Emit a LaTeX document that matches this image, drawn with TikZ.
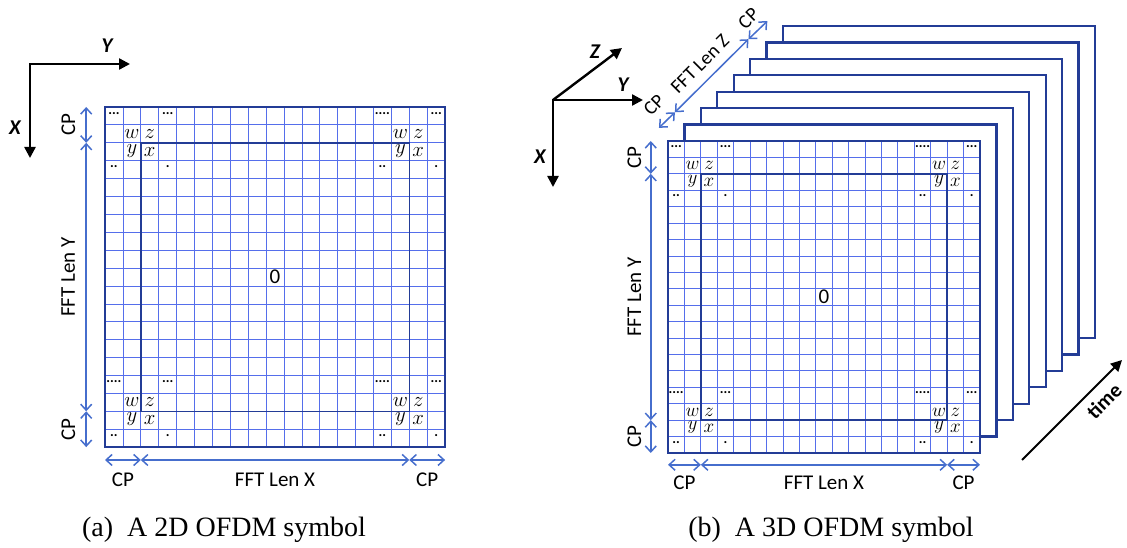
\documentclass[tikz,border=0pt]{standalone}
\usepackage{fontspec}
\setmainfont{Liberation Serif}
\newfontfamily\carl{Carlito}
\usetikzlibrary{arrows.meta}

\definecolor{gridblue}{RGB}{85,110,235}
\definecolor{frameblue}{RGB}{35,60,150}
\definecolor{dimblue}{RGB}{70,110,205}

\tikzset{
  gridline/.style={gridblue, line width=0.8pt},
  framebox/.style={frameblue, line width=2.2pt},
  innerbox/.style={frameblue, line width=1.6pt},
  dimarrow/.style={dimblue, line width=1.5pt,
    {Straight Barb[length=6pt,width=11pt]}-{Straight Barb[length=6pt,width=11pt]}},
  axisarrow/.style={black, line width=2.4pt},
  dimlabel/.style={font=\carl\fontsize{21}{21}\selectfont, inner sep=0pt},
  symlabel/.style={font=\fontsize{20}{20}\selectfont, inner sep=0pt},
  dotlabel/.style={font=\carl\bfseries\fontsize{14}{14}\selectfont, inner sep=0pt},
  axislabel/.style={font=\carl\bfseries\itshape\fontsize{21}{21}\selectfont, inner sep=0pt},
  caption/.style={font=\fontsize{28}{28}\selectfont, inner sep=0pt},
}

% row of dots in a corner cell
\newcommand{\dotrow}[1]{\ifcase#1\or.\or..\or...\or....\fi}

% one 19x19 symbol with its CP / FFT marks, in cell units
\newcommand{\ofdmgrid}[1]{%
  \fill[white] (0,0) rectangle (19,19);
  \foreach \i in {1,...,18} {
    \draw[gridline] (\i,0) -- (\i,19);
    \draw[gridline] (0,\i) -- (19,\i);
  }
  \draw[innerbox] (2,2) rectangle (17,17);
  \draw[framebox] (0,0) rectangle (19,19);
  \foreach \r/\c in {1/1,1/16,16/1,16/16} {
    \node[symlabel] (#1-w\r\c) at (\c+0.5,\r+0.5) {$w$};
    \node[symlabel] (#1-z\r\c) at (\c+1.5,\r+0.5) {$z$};
    \node[symlabel] (#1-y\r\c) at (\c+0.5,\r+1.45) {$y$};
    \node[symlabel] (#1-x\r\c) at (\c+1.5,\r+1.5) {$x$};
  }
  \foreach \r/\c/\n in {0/0/3,0/3/3,0/15/4,0/18/3,3/0/2,3/3/1,3/15/2,3/18/1,
                        15/0/4,15/3/3,15/15/4,15/18/3,18/0/2,18/3/1,18/15/2,18/18/1}
    \node[dotlabel] (#1-d\r-\c) at (\c+0.5,\r+0.35) {\dotrow{\n}};
  \node[dimlabel] (#1-zero) at (9.5,9.5) {0};
  % Y direction
  \coordinate (#1-v0) at (-1.05,0);
  \coordinate (#1-v1) at (-1.05,2);
  \coordinate (#1-v2) at (-1.05,17);
  \coordinate (#1-v3) at (-1.05,19);
  \draw[dimarrow] (#1-v0) -- (#1-v1);
  \draw[dimarrow] (#1-v1) -- (#1-v2);
  \draw[dimarrow] (#1-v2) -- (#1-v3);
  \node[dimlabel, rotate=90] (#1-cpv1) at (-2.05,1) {CP};
  \node[dimlabel, rotate=90] (#1-fftv) at (-2.05,9.5) {FFT Len Y};
  \node[dimlabel, rotate=90] (#1-cpv2) at (-2.05,18) {CP};
  % X direction
  \coordinate (#1-h0) at (0,19.72);
  \coordinate (#1-h1) at (2,19.72);
  \coordinate (#1-h2) at (17,19.72);
  \coordinate (#1-h3) at (19,19.72);
  \draw[dimarrow] (#1-h0) -- (#1-h1);
  \draw[dimarrow] (#1-h1) -- (#1-h2);
  \draw[dimarrow] (#1-h2) -- (#1-h3);
  \node[dimlabel] (#1-cph1) at (1,20.82) {CP};
  \node[dimlabel] (#1-ffth) at (9.5,20.82) {FFT Len X};
  \node[dimlabel] (#1-cph2) at (18,20.82) {CP};
}

\begin{document}
\begin{tikzpicture}[x=1pt,y=-1pt]
  \useasboundingbox (0,0) rectangle (1127,548);

  % (a) 2D symbol
  \coordinate (oA) at (30,64);
  \coordinate (yA) at (130,64);
  \coordinate (xA) at (30,158);
  \draw[axisarrow, {Triangle[length=11pt,width=11pt]}-{Triangle[length=11pt,width=11pt]}]
    (yA) -- (oA) -- (xA);
  \node[axislabel] (labYA) at (107,46) {Y};
  \node[axislabel] (labXA) at (15,128) {X};

  \begin{scope}[shift={(105,107)}, x=17.9pt, y=-17.9pt]
    \ofdmgrid{a}
  \end{scope}

  % (b) 3D symbol
  \coordinate (oB) at (553,100);
  \coordinate (yB) at (643,100);
  \coordinate (zB) at (622,48);
  \coordinate (xB) at (553,187);
  \draw[axisarrow, {Triangle[length=11pt,width=11pt]}-{Triangle[length=11pt,width=11pt]}]
    (yB) -- (oB) -- (xB);
  \draw[axisarrow, -{Triangle[length=11pt,width=11pt]}] (oB) -- (zB);
  \node[axislabel] (labZB) at (595,52) {Z};
  \node[axislabel] (labYB) at (623,85) {Y};
  \node[axislabel] (labXB) at (540,157) {X};

  \begin{scope}[shift={(668,141)}, x=16.42pt, y=-16.42pt,
                symlabel/.append style={scale=0.92}]
    \foreach \k in {7,6,...,1}
      \draw[framebox, fill=white] (\k,-\k) rectangle (19+\k,19-\k);
    \ofdmgrid{b}
    % Z direction
    \coordinate (z0) at (-0.55,-0.8);
    \coordinate (z1) at (0.42,-1.75);
    \coordinate (z2) at (4.9,-6.2);
    \coordinate (z3) at (6.05,-7.3);
    \draw[dimarrow] (z0) -- (z1);
    \draw[dimarrow] (z1) -- (z2);
    \draw[dimarrow] (z2) -- (z3);
    \node[dimlabel, scale=0.93, rotate=45] (cpz1) at (-0.85,-2.2) {CP};
    \node[dimlabel, scale=0.93, rotate=45] (fftz) at (1.95,-4.68) {FFT Len Z};
    \node[dimlabel, scale=0.93, rotate=45] (cpz2) at (4.9,-7.45) {CP};
  \end{scope}

  \coordinate (t0) at (1022,460);
  \coordinate (t1) at (1122,360);
  \draw[axisarrow, line width=2pt, -{Triangle[length=11pt,width=11pt]}] (t0) -- (t1);
  \node[font=\carl\bfseries\fontsize{21}{21}\selectfont, inner sep=0pt, rotate=45]
    (timelab) at (1104,401) {time};

  \node[caption] (capA) at (224,530) {(a)\ \ A 2D OFDM symbol};
  \node[caption] (capB) at (831,530) {(b)\ \ A 3D OFDM symbol};
\end{tikzpicture}
\end{document}
